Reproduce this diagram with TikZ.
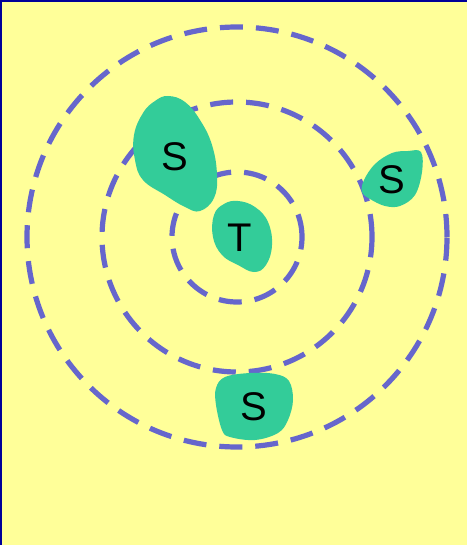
\documentclass[tikz,border=0pt]{standalone}
\usepackage{fontspec}
\setmainfont{Liberation Sans}
\usepackage{xcolor}
\usepackage{tikz}
\usetikzlibrary{positioning}
\definecolor{bgyellow}{HTML}{FFFF99}
\definecolor{ringblue}{HTML}{6666CC}
\definecolor{blobgreen}{HTML}{33CC99}
\definecolor{edgeblue}{HTML}{000099}

\begin{document}
\begin{tikzpicture}[
  x=0.5pt,y=-0.5pt,
  ring/.style={draw=ringblue,line width=2.6pt,dash pattern=on 11.5pt off 6.5pt},
  blob/.style={fill=blobgreen,draw=none},
  lbl/.style={font=\fontsize{20}{24}\selectfont,inner sep=0pt}
]
  % background and frame
  \fill[bgyellow] (0,0) rectangle (467,545);
  \useasboundingbox (0,0) rectangle (467,545);
  \draw[edgeblue,line width=1.5pt] (0.75,545) -- (0.75,0.5) -- (467,0.5);

  % rings round the centre
  \coordinate (ctr) at (237,237);
  \draw[ring] (ctr) circle[radius=105pt];
  \draw[ring] (ctr) circle[radius=67.5pt];
  \draw[ring] (ctr) circle[radius=32.5pt];

  % blobs
  \fill[blob] plot[smooth cycle,tension=0.7] coordinates {
    (238,201) (255,207) (268,222) (272,245) (266,265) (254,272)
    (238,265) (222,255) (213,237) (214,215) (224,204)};
  \fill[blob] plot[smooth cycle,tension=0.7] coordinates {
    (168,96) (185,102) (200,120) (212,145) (217,175) (214,198) (200,211)
    (185,207) (165,195) (143,180) (135,160) (134,135) (143,113) (155,101)};
  \fill[blob] plot[smooth cycle,tension=0.6] coordinates {
    (421,152) (422,172) (415,195) (400,206) (385,206) (370,199)
    (362,192) (364,180) (375,164) (392,153) (408,151)};
  \fill[blob] plot[smooth cycle,tension=0.6] coordinates {
    (225,377) (250,373) (275,374) (289,381) (293,400) (288,420) (278,433)
    (255,440) (230,437) (222,430) (216,405) (216,388)};

  % labels
  \node[lbl] (t)  at (240,238) {T};
  \node[lbl] (s1) at (175,157) {S};
  \node[lbl] (s2) at (392,180) {S};
  \node[lbl] (s3) at (254,407) {S};
\end{tikzpicture}
\end{document}
